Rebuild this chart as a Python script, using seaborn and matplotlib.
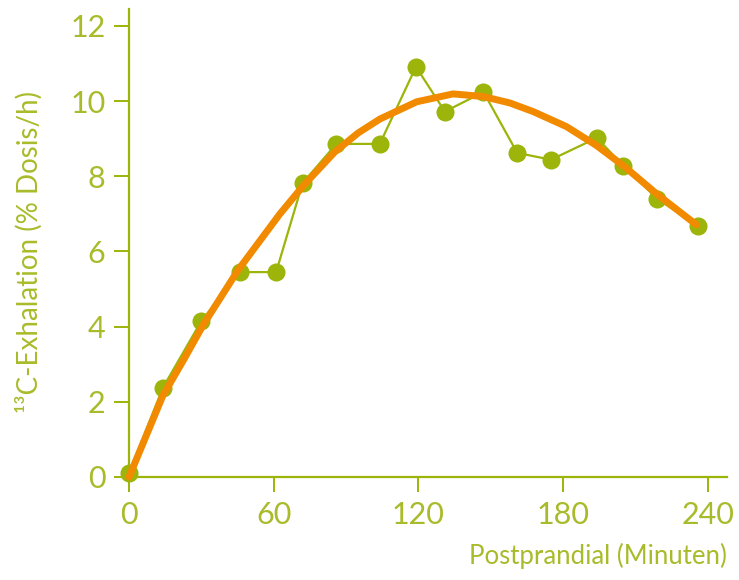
import matplotlib
matplotlib.use("Agg")
import matplotlib.pyplot as plt
import seaborn as sns

minutes = [0, 14, 30, 46, 61, 72, 86, 104, 119, 131, 147, 161, 175, 194, 205, 219, 236]
exhalation = [0.1, 2.37, 4.15, 5.45, 5.45, 7.82, 8.86, 8.86, 10.91, 9.72, 10.24,
              8.62, 8.44, 9.02, 8.28, 7.40, 6.68]

# fitted curve (orange)
fit_minutes = [0, 14, 22.5, 30.8, 45.3, 62.6, 72.3, 85.4, 95, 104, 119.3, 134.4,
               146.9, 157.9, 167.6, 181.4, 193.8, 205.6, 219.4, 235.3]
fit_values = [0, 2.16, 3.1, 4.05, 5.51, 7.0, 7.75, 8.65, 9.15, 9.52, 9.98, 10.19,
              10.12, 9.95, 9.72, 9.32, 8.82, 8.25, 7.5, 6.71]

x_ticks = [0, 60, 120, 180, 240]
y_ticks = [0, 2, 4, 6, 8, 10, 12]

GREEN = "#9db40a"
TEXT = "#a9bb2a"
ORANGE = "#f28a00"

sns.set_theme(style="white")
plt.rcParams["font.family"] = ["Lato", "DejaVu Sans"]

fig = plt.figure(figsize=(7.39, 5.80), dpi=100)
ax = fig.add_axes([0.1746, 0.1776, 0.8092, 0.807])

sns.lineplot(x=minutes, y=exhalation, ax=ax, color=GREEN, linewidth=1.6,
             marker="o", markersize=13, markeredgewidth=0, clip_on=False, zorder=3)
sns.lineplot(x=fit_minutes, y=fit_values, ax=ax, color=ORANGE, linewidth=5,
             solid_joinstyle="round", solid_capstyle="round", clip_on=False, zorder=4)

ax.set_xlim(0, 248)
ax.set_ylim(0, 12.45)
ax.set_xticks(x_ticks)
ax.set_yticks(y_ticks)

for side in ["top", "right"]:
    ax.spines[side].set_visible(False)
for side in ["left", "bottom"]:
    ax.spines[side].set_color(GREEN)
    ax.spines[side].set_linewidth(1.6)

ax.tick_params(axis="both", colors=GREEN, length=11, width=1.4, direction="out",
               labelsize=22, labelcolor=TEXT, pad=6)
ax.tick_params(axis="x", bottom=True)
ax.tick_params(axis="y", left=True)

ax.set_xlabel("Postprandial (Minuten)", fontsize=18.5, color=TEXT)
ax.xaxis.set_label_coords(1.0, -0.14)
ax.xaxis.label.set_horizontalalignment("right")
ax.set_ylabel("¹³C-Exhalation (% Dosis/h)", fontsize=20, color=TEXT)
ax.yaxis.set_label_coords(-0.145, 0.48)

fig.savefig("out.png", dpi=100)
